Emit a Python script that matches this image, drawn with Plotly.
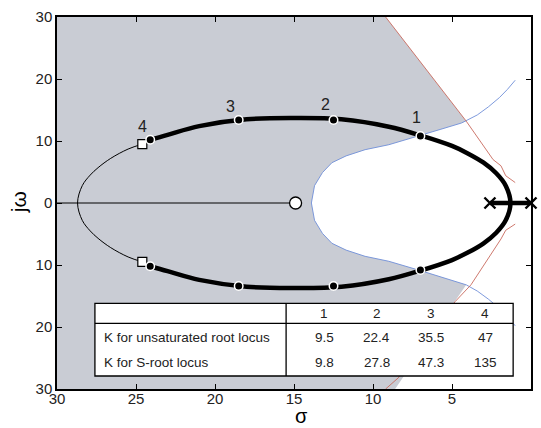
import plotly.graph_objects as go

# ---- data (sigma given as distance to the left of the imaginary axis) ----
# thick branch of the unsaturated root locus (upper half, from point 4 to the real axis)
locus_sigma = [24.1, 23.0, 21.0, 18.0, 15.0, 12.0, 9.0, 7.0, 5.0, 4.0, 3.0, 2.2, 1.6, 1.3]
locus_omega = [10.2, 11.0, 12.4, 13.5, 13.7, 13.5, 12.3, 10.9, 9.2, 8.0, 6.5, 4.8, 2.8, 0.0]

# thin continuation of the locus beyond point 4 (upper half)
thin_sigma = [24.6, 25.5, 26.6, 27.4, 27.9, 28.4, 28.7]
thin_omega = [9.5, 8.7, 7.2, 5.7, 4.5, 2.8, 0.0]

# S-root locus boundaries
blue_sigma = [1.0, 1.5, 2.0, 2.7, 3.4, 4.1, 4.4, 5.7, 7.0, 9.0, 10.5, 11.7, 12.6, 13.2, 13.7, 13.9]
blue_omega = [19.8, 18.3, 17.0, 15.5, 14.2, 13.2, 12.9, 11.9, 10.9, 9.4, 8.6, 7.6, 6.5, 4.9, 2.8, 0.0]

red_up_sigma = [9.2, 4.1, 2.4, 1.9, 1.6, 1.0]
red_up_omega = [30.0, 13.2, 7.0, 6.0, 4.4, 3.3]
red_lo_sigma = [1.0, 1.6, 1.9, 2.7, 3.8, 4.8, 8.4, 9.2]
red_lo_omega = [-3.4, -4.4, -5.8, -9.0, -13.2, -15.9, -28.2, -30.0]

# gain points 1..4 on the locus
pt_labels = ["1", "2", "3", "4"]
pt_sigma = [7.0, 12.5, 18.5, 24.1]
pt_omega = [10.8, 13.4, 13.4, 10.2]
sq_sigma = [24.6]
sq_omega = [9.5]

# open-loop poles and zero
pole_sigma = [2.6, 0.0]
zero_sigma = [14.9]

# gain table
col_heads = ["1", "2", "3", "4"]
row_names = ["K for unsaturated root locus", "K for S-root locus"]
k_unsat = ["9.5", "22.4", "35.5", "47"]
k_sroot = ["9.8", "27.8", "47.3", "135"]

# axis ticks
x_ticks = [30, 25, 20, 15, 10, 5]
y_ticks = [30, 20, 10, 0, -10, -20, -30]


def neg(v):
    return [-a for a in v]


def mirrored(s, w):
    """Upper branch followed by its conjugate, traced back towards the start."""
    xs = neg(s) + neg(s[::-1][1:])
    ys = list(w) + [-v for v in w[::-1][1:]]
    return xs, ys


fig = go.Figure()

# shaded region (left of the S-root locus boundary)
bx, by = mirrored(blue_sigma[5:], blue_omega[5:])
poly_x = [-30, -9.2] + bx + [-8.6, -30]
poly_y = [30, 30] + by + [-30, -30]
fig.add_trace(go.Scatter(x=poly_x, y=poly_y, mode="lines", fill="toself",
                         fillcolor="#c9ccd4", line=dict(width=0), hoverinfo="skip"))

# blue and red boundary curves
bx, by = mirrored(blue_sigma, blue_omega)
fig.add_trace(go.Scatter(x=bx, y=by, mode="lines", line=dict(color="#6f8fd8", width=0.9)))
fig.add_trace(go.Scatter(x=neg(red_up_sigma), y=red_up_omega, mode="lines",
                         line=dict(color="#c86a5e", width=0.9)))
fig.add_trace(go.Scatter(x=neg(red_lo_sigma), y=red_lo_omega, mode="lines",
                         line=dict(color="#c86a5e", width=0.9)))

# real-axis locus segment (thin) from the left edge to the zero
fig.add_trace(go.Scatter(x=[-30, -zero_sigma[0]], y=[0, 0], mode="lines",
                         line=dict(color="black", width=1)))

# thin part of the locus
tx, ty = mirrored(thin_sigma, thin_omega)
fig.add_trace(go.Scatter(x=tx, y=ty, mode="lines",
                         line=dict(color="black", width=1, shape="spline")))

# thick part of the locus
lx, ly = mirrored(locus_sigma, locus_omega)
fig.add_trace(go.Scatter(x=lx, y=ly, mode="lines",
                         line=dict(color="black", width=4.5, shape="spline")))

# thick segment between the poles
fig.add_trace(go.Scatter(x=neg(pole_sigma), y=[0, 0], mode="lines",
                         line=dict(color="black", width=4.5)))

# squares at the end of the thick branch
fig.add_trace(go.Scatter(x=neg(sq_sigma) * 2, y=sq_omega + [-w for w in sq_omega], mode="markers",
                         marker=dict(symbol="square", size=9, color="white",
                                     line=dict(color="black", width=1.2))))

# gain points
fig.add_trace(go.Scatter(x=neg(pt_sigma) * 2, y=pt_omega + [-w for w in pt_omega], mode="markers",
                         marker=dict(symbol="circle", size=8.5, color="black",
                                     line=dict(color="white", width=1.5))))

# zero
fig.add_trace(go.Scatter(x=neg(zero_sigma), y=[0], mode="markers",
                         marker=dict(symbol="circle", size=12, color="white",
                                     line=dict(color="black", width=1.3))))

# poles
fig.add_trace(go.Scatter(x=neg(pole_sigma), y=[0, 0], mode="markers",
                         marker=dict(symbol="x-thin", size=11, color="black",
                                     line=dict(color="black", width=2.4)),
                         cliponaxis=False))

# point labels, offset above-left of each point
label_dsigma = [0.25, 0.5, 0.5, 0.5]
label_domega = [3.0, 2.5, 2.2, 2.2]
for lab, s, w, ds, dw in zip(pt_labels, pt_sigma, pt_omega, label_dsigma, label_domega):
    fig.add_annotation(x=-(s + ds), y=w + dw, text=lab, showarrow=False,
                       font=dict(size=16, color="#222222", family="Liberation Sans, Arial"))

# ---- gain table ----
tx0, tx1, tdiv = -27.6, -1.13, -15.5
ty_top, ty_head, ty_bot = -16.2, -19.4, -27.9
fig.add_shape(type="rect", x0=tx0, x1=tx1, y0=ty_bot, y1=ty_top, xref="x", yref="y",
              line=dict(color="black", width=1.3), fillcolor="white", layer="above")
fig.add_shape(type="line", x0=tx0, x1=tx1, y0=ty_head, y1=ty_head, xref="x", yref="y",
              line=dict(color="black", width=1.3), layer="above")
fig.add_shape(type="line", x0=tdiv, x1=tdiv, y0=ty_bot, y1=ty_top, xref="x", yref="y",
              line=dict(color="black", width=1.3), layer="above")

col_x = [-13.1, -9.77, -6.36, -2.9]
row_y = [-21.7, -25.8]
head_y = -17.9
tfont = dict(size=13.5, color="#222222", family="Liberation Sans, Arial")
for cx, h in zip(col_x, col_heads):
    fig.add_annotation(x=cx, y=head_y, text=h, showarrow=False, font=tfont)
for ry, name, vals in zip(row_y, row_names, [k_unsat, k_sroot]):
    fig.add_annotation(x=-27.15, y=ry, text=name, showarrow=False, xanchor="left", font=tfont)
    for cx, v in zip(col_x, vals):
        fig.add_annotation(x=cx, y=ry, text=v, showarrow=False, font=tfont)

# axis titles
fig.add_annotation(x=(18 - 57) / 476, y=(389 - 200) / 376, xref="paper", yref="paper",
                   xanchor="center", yanchor="middle",
                   text="jω", showarrow=False, textangle=-90,
                   font=dict(size=21, color="black", family="Liberation Sans, Arial"))
fig.add_annotation(x=(303 - 57) / 476, y=(389 - 416) / 376, xref="paper", yref="paper",
                   xanchor="center", yanchor="middle",
                   text="σ", showarrow=False,
                   font=dict(size=20, color="black", family="Liberation Sans, Arial"))

axis_common = dict(showgrid=False, zeroline=False, showline=True, linecolor="black",
                   linewidth=1.5, mirror="ticks", ticks="inside", ticklen=5,
                   tickwidth=1, tickcolor="black",
                   tickfont=dict(size=15, color="#222222", family="Liberation Sans, Arial"))

fig.update_layout(
    width=541, height=428,
    margin=dict(l=57, r=8, t=13, b=39),
    plot_bgcolor="white", paper_bgcolor="white",
    showlegend=False,
    xaxis=dict(range=[-30, 0], tickvals=[-t for t in x_ticks],
               ticktext=[str(t) for t in x_ticks], ticklabelstandoff=-5, **axis_common),
    yaxis=dict(range=[-30, 30], tickvals=y_ticks,
               ticktext=[str(abs(t)) for t in y_ticks], **axis_common),
)

fig.write_html("out.html")
